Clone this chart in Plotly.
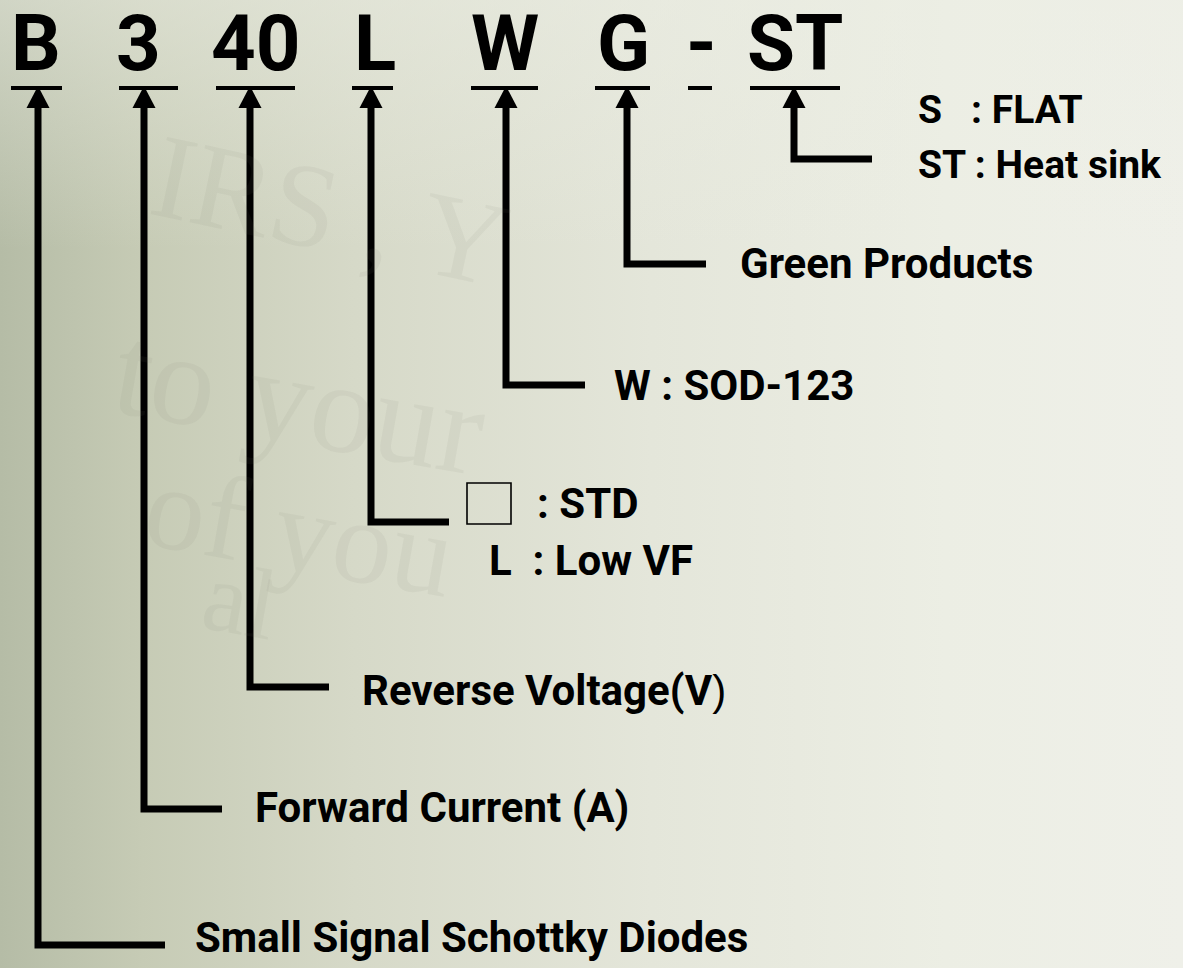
import plotly.graph_objects as go

W, H = 1183, 968

# ---- data ----
code_parts = ["B", "3", "40", "L", "W", "G", "-", "ST"]
descriptions = [
    "Small Signal Schottky Diodes",
    "Forward Current (A)",
    "Reverse Voltage(V<span style='font-weight:normal;font-family:Liberation Sans'>)</span>",
    None,  # L : STD / Low VF (built separately)
    "W : SOD-123",
    "Green Products",
    None,
    None,  # S / ST option list
]
l_options = [": STD", "L  : Low VF"]
st_options = ["S   : FLAT", "ST : Heat sink"]

# ---- layout geometry (pixels) ----
part_cx = [36, 138, 256, 375, 505, 623, 701, 795]
under_x0 = [11, 119, 216, 352, 471, 595, 688, 750]
under_x1 = [62, 178, 295, 393, 538, 650, 712, 840]
arrow_x = [38, 144, 250, 371, 506, 627, None, 794]
elbow_y = [945, 809, 687, 522, 385, 264, None, 159]
elbow_x1 = [165, 222, 329, 449, 585, 706, None, 872]
label_x = [193, 253, 360, None, 612, 738, None, None]
label_y = [937, 807, 690, None, 385, 263, None, None]

FONT = "Roboto, Liberation Sans, sans-serif"
LBL = 42

fig = go.Figure()

# background gradient
fig.add_trace(go.Scatter(
    x=[0, W, W, 0, 0], y=[0, 0, H, H, 0], mode="lines", line=dict(width=0),
    fill="toself",
    fillgradient=dict(type="horizontal", colorscale=[
        [0.0, "#b5bca6"], [0.12, "#c6cbb5"], [0.3, "#d6d9c8"],
        [0.55, "#e4e6da"], [0.8, "#eceee4"], [1.0, "#eff0e9"]]),
    hoverinfo="skip", showlegend=False))
# lighter top band
fig.add_trace(go.Scatter(
    x=[0, W, W, 0, 0], y=[0, 0, 250, 250, 0], mode="lines", line=dict(width=0),
    fill="toself",
    fillgradient=dict(type="vertical", colorscale=[
        [0.0, "rgba(236,238,228,0.0)"], [1.0, "rgba(236,238,228,0.5)"]]),
    hoverinfo="skip", showlegend=False))

shapes = []
annotations = []

# watermark (very faint)
for txt, x, y, ang, sz in [("IRS , Y", 330, 210, 12, 120), ("to your", 300, 400, 10, 130),
                           ("of you", 300, 530, 10, 120), ("al", 240, 600, 10, 100)]:
    annotations.append(dict(x=x, y=y, xref="x", yref="y", text=txt, showarrow=False,
                            textangle=ang, font=dict(family="Liberation Serif, serif", size=sz,
                                                     color="rgba(120,125,110,0.075)")))

for i, part in enumerate(code_parts):
    annotations.append(dict(x=part_cx[i], y=43, xref="x", yref="y", text=part,
                            showarrow=False, xanchor="center", yanchor="middle",
                            font=dict(family=FONT, size=78, color="black", weight="bold")))
    shapes.append(dict(type="line", xref="x", yref="y", x0=under_x0[i], x1=under_x1[i],
                       y0=88, y1=88, line=dict(color="black", width=4)))
    ax = arrow_x[i]
    if ax is None:
        continue
    shapes.append(dict(type="path", xref="x", yref="y",
                       path=f"M {ax} 86 L {ax-11.5} 108 L {ax+11.5} 108 Z",
                       fillcolor="black", line=dict(width=0)))
    shapes.append(dict(type="path", xref="x", yref="y",
                       path=f"M {ax} 106 L {ax} {elbow_y[i]} L {elbow_x1[i]} {elbow_y[i]}",
                       line=dict(color="black", width=7)))
    if descriptions[i] is not None:
        annotations.append(dict(x=label_x[i], y=label_y[i], xref="x", yref="y",
                                text=descriptions[i], showarrow=False,
                                xanchor="left", yanchor="middle",
                                font=dict(family=FONT, size=LBL, color="black", weight="bold")))

# L options: box + text
shapes.append(dict(type="rect", xref="x", yref="y", x0=467, x1=511, y0=483, y1=524,
                   line=dict(color="black", width=1.6), fillcolor="rgba(0,0,0,0)"))
annotations.append(dict(x=535, y=503, xref="x", yref="y", text=l_options[0], showarrow=False,
                        xanchor="left", yanchor="middle",
                        font=dict(family=FONT, size=LBL, color="black", weight="bold")))
annotations.append(dict(x=487, y=560, xref="x", yref="y", text=l_options[1], showarrow=False,
                        xanchor="left", yanchor="middle",
                        font=dict(family=FONT, size=LBL, color="black", weight="bold")))
# ST options
annotations.append(dict(x=916, y=110, xref="x", yref="y", text=st_options[0], showarrow=False,
                        xanchor="left", yanchor="middle",
                        font=dict(family=FONT, size=39, color="black", weight="bold")))
annotations.append(dict(x=916, y=165, xref="x", yref="y", text=st_options[1], showarrow=False,
                        xanchor="left", yanchor="middle",
                        font=dict(family=FONT, size=39, color="black", weight="bold")))

fig.update_layout(
    width=W, height=H, margin=dict(l=0, r=0, t=0, b=0),
    paper_bgcolor="#e3e5d9", plot_bgcolor="rgba(0,0,0,0)",
    xaxis=dict(range=[0, W], visible=False, fixedrange=True),
    yaxis=dict(range=[H, 0], visible=False, fixedrange=True),
    shapes=shapes, annotations=annotations, showlegend=False,
)
fig.write_html("out.html", config={"displayModeBar": False},
               post_script="document.body.style.margin='0px';document.body.style.overflow='hidden';")
